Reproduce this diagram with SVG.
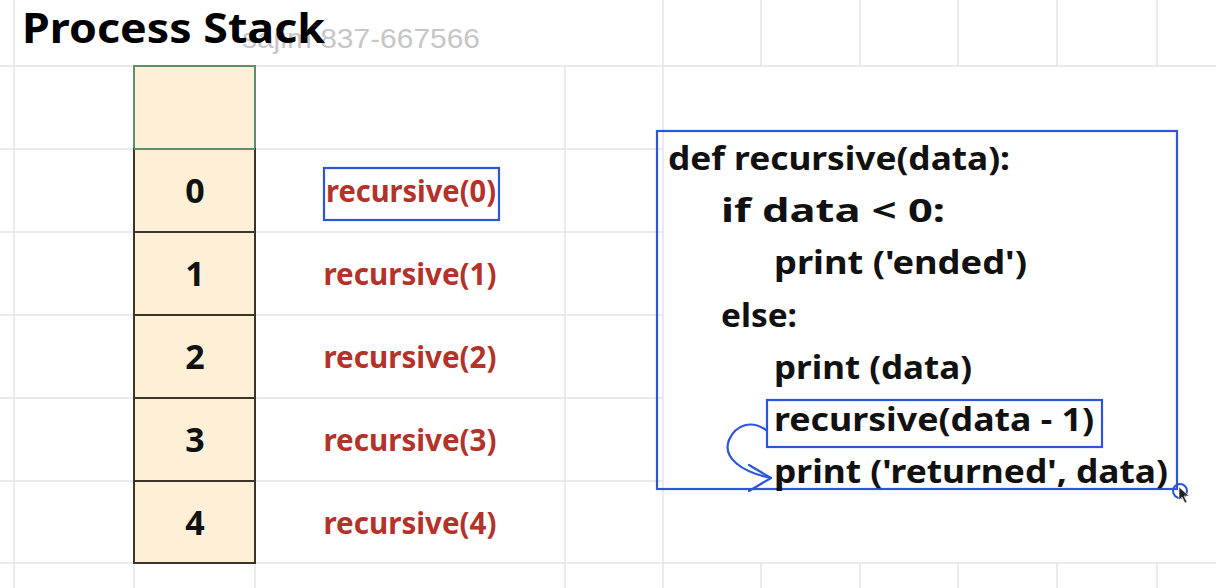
<svg xmlns="http://www.w3.org/2000/svg" width="1216" height="588" viewBox="0 0 1216 588">
  <defs>
    <style>
      .grid line { stroke: #e5e5e5; stroke-width: 1.5; }
      .cell { fill: #fdf0d6; stroke: #3a3528; stroke-width: 2; }
      .cell-top { fill: #fdf0d6; stroke: #5f8f6a; stroke-width: 2; }
      .num { font-family: "Noto Sans", "Open Sans", sans-serif; font-weight: 700; font-size: 34px; fill: #111; text-anchor: middle; }
      .lbl { font-family: "Noto Sans", "Open Sans", sans-serif; font-weight: 700; font-size: 31px; fill: #b3322a; text-anchor: middle; }
      .code { font-family: "Noto Sans", "Open Sans", sans-serif; font-weight: 700; font-size: 32px; fill: #111; }
      .blue { fill: none; stroke: #2c55d8; stroke-width: 2.2; }
    </style>
  </defs>
  <rect x="0" y="0" width="1216" height="588" fill="#ffffff"/>

  <g id="grid" class="grid">
    <line x1="0" y1="66" x2="1216" y2="66"/>
    <line x1="0" y1="149" x2="663" y2="149"/>
    <line x1="0" y1="232" x2="663" y2="232"/>
    <line x1="0" y1="315" x2="663" y2="315"/>
    <line x1="0" y1="398" x2="663" y2="398"/>
    <line x1="0" y1="481" x2="663" y2="481"/>
    <line x1="0" y1="563" x2="1216" y2="563"/>
    <line x1="14" y1="0" x2="14" y2="588"/>
    <line x1="134" y1="563" x2="134" y2="588"/>
    <line x1="255" y1="563" x2="255" y2="588"/>
    <line x1="565" y1="66" x2="565" y2="588"/>
    <line x1="663" y1="0" x2="663" y2="588"/>
    <line x1="761" y1="0" x2="761" y2="66"/>
    <line x1="860" y1="0" x2="860" y2="66"/>
    <line x1="958" y1="0" x2="958" y2="66"/>
    <line x1="1057" y1="0" x2="1057" y2="66"/>
    <line x1="1157" y1="0" x2="1157" y2="66"/>
    <line x1="761" y1="563" x2="761" y2="588"/>
    <line x1="860" y1="563" x2="860" y2="588"/>
    <line x1="958" y1="563" x2="958" y2="588"/>
    <line x1="1057" y1="563" x2="1057" y2="588"/>
    <line x1="1157" y1="563" x2="1157" y2="588"/>
  </g>

  <g id="watermark">
    <text x="242" y="48" font-family="Liberation Sans, Arial, sans-serif" font-size="28" fill="#c6c6c6" textLength="238" lengthAdjust="spacingAndGlyphs">sajim 837-667566</text>
  </g>

  <g id="title">
    <text x="22" y="43" font-family="Noto Sans, Open Sans, sans-serif" font-weight="700" font-size="42" fill="#000" textLength="303" lengthAdjust="spacingAndGlyphs">Process Stack</text>
  </g>

  <g id="stack">
    <g id="cell-empty"><rect class="cell-top" x="134" y="66" width="121" height="83"/></g>
    <g id="cell-0"><rect class="cell" x="134" y="149" width="121" height="83"/><text class="num" x="195" y="203">0</text></g>
    <g id="cell-1"><rect class="cell" x="134" y="232" width="121" height="83"/><text class="num" x="195" y="286">1</text></g>
    <g id="cell-2"><rect class="cell" x="134" y="315" width="121" height="83"/><text class="num" x="195" y="369">2</text></g>
    <g id="cell-3"><rect class="cell" x="134" y="398" width="121" height="83"/><text class="num" x="195" y="452">3</text></g>
    <g id="cell-4"><rect class="cell" x="134" y="481" width="121" height="82"/><text class="num" x="195" y="535">4</text></g>
    <line x1="134" y1="149" x2="255" y2="149" stroke="#5f8f6a" stroke-width="2"/>
  </g>

  <g id="labels">
    <g id="label-0">
      <rect class="blue" x="324" y="168" width="175" height="52"/>
      <text class="lbl" x="411" y="202" textLength="170" lengthAdjust="spacingAndGlyphs">recursive(0)</text>
    </g>
    <g id="label-1"><text class="lbl" x="410" y="285" textLength="173" lengthAdjust="spacingAndGlyphs">recursive(1)</text></g>
    <g id="label-2"><text class="lbl" x="410" y="368" textLength="173" lengthAdjust="spacingAndGlyphs">recursive(2)</text></g>
    <g id="label-3"><text class="lbl" x="410" y="451" textLength="173" lengthAdjust="spacingAndGlyphs">recursive(3)</text></g>
    <g id="label-4"><text class="lbl" x="410" y="534" textLength="173" lengthAdjust="spacingAndGlyphs">recursive(4)</text></g>
  </g>

  <g id="code">
    <rect class="blue" x="657" y="131" width="520" height="358"/>
    <text class="code" x="668" y="170" textLength="342" lengthAdjust="spacingAndGlyphs">def recursive(data):</text>
    <text class="code" x="721" y="222" textLength="224" lengthAdjust="spacingAndGlyphs">if data &lt; 0:</text>
    <text class="code" x="774" y="274" textLength="253" lengthAdjust="spacingAndGlyphs">print ('ended')</text>
    <text class="code" x="721" y="327" textLength="76" lengthAdjust="spacingAndGlyphs">else:</text>
    <text class="code" x="774" y="379" textLength="198" lengthAdjust="spacingAndGlyphs">print (data)</text>
    <g id="recursive-call">
      <rect class="blue" x="767" y="400" width="335" height="47"/>
      <text class="code" x="774" y="431" textLength="320" lengthAdjust="spacingAndGlyphs">recursive(data - 1)</text>
    </g>
    <text class="code" x="774" y="483" textLength="394" lengthAdjust="spacingAndGlyphs">print ('returned', data)</text>
  </g>

  <g id="connectors">
    <path class="blue" d="M766,430 C752,420 736,424 729,440 C722,458 742,472 771,478" stroke-linecap="round"/>
    <polyline class="blue" points="749,465 771,478 749,491" stroke-linecap="round" stroke-linejoin="round"/>
  </g>

  <g id="cursor">
    <circle cx="1180" cy="491" r="7" fill="none" stroke="#2c55d8" stroke-width="2"/>
    <polygon points="1179,487 1179,500 1182,497 1185,503 1187,502 1184,496 1189,496" fill="#222" stroke="#fff" stroke-width="0.6"/>
  </g>
</svg>
